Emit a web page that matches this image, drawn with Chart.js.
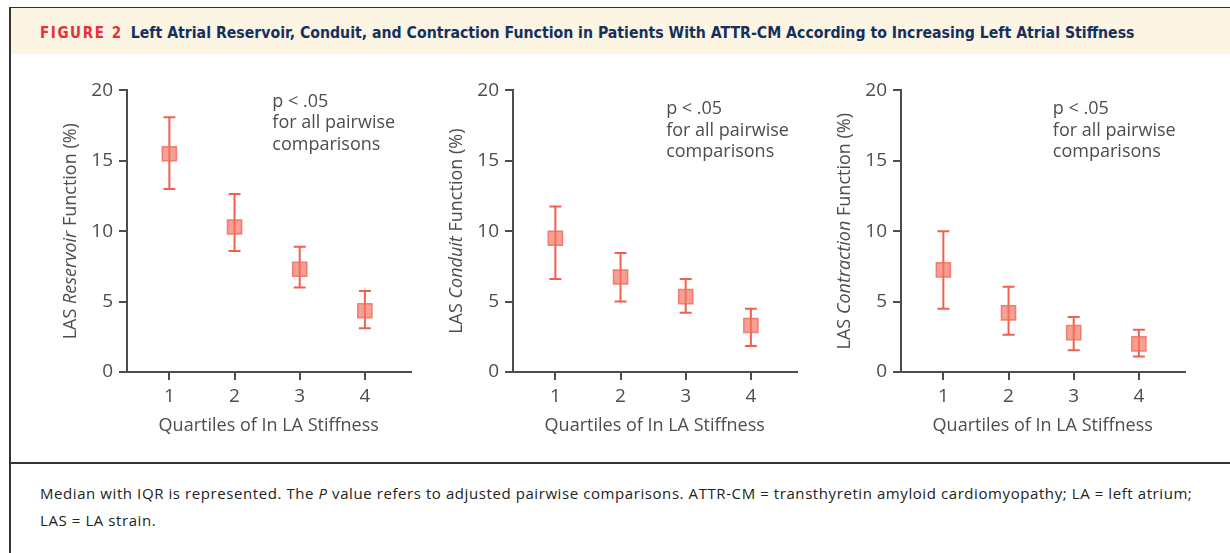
<!DOCTYPE html>
<html>
<head>
<meta charset="utf-8">
<script src="https://cdn.jsdelivr.net/npm/chart.js@4/dist/chart.umd.min.js"></script>
<style>
  body { margin: 0; width: 1230px; height: 553px; background: #fff; position: relative; overflow: hidden; font-family: "Open Sans", sans-serif; }
  .frame-top { position: absolute; left: 9px; top: 7px; right: 0; height: 1px; background: #333; }
  .frame-left { position: absolute; left: 9px; top: 7px; width: 1.5px; bottom: 0; background: #333; }
  .band { position: absolute; left: 10.5px; top: 8px; right: 0; height: 46px; background: #fcf5e4; }
  .title { position: absolute; left: 40px; top: 23px; white-space: nowrap; font-family: "DejaVu Sans Condensed", "DejaVu Sans", sans-serif; font-stretch: condensed; font-weight: bold; font-size: 15.7px; color: #14305e; }
  .title .fig { color: #e4303a; letter-spacing: 1.6px; margin-right: 8px; font-size: 15px; }
  .sep { position: absolute; left: 9px; right: 0; top: 462px; height: 1.5px; background: #333; }
  .note { position: absolute; left: 40px; top: 480px; width: 1185px; font-size: 15px; letter-spacing: 0.58px; line-height: 27px; color: #222; }
  canvas { position: absolute; }
</style>
</head>
<body>
<div class="frame-top"></div>
<div class="band"></div>
<div class="frame-left"></div>
<div class="title"><span class="fig">FIGURE 2</span>Left Atrial Reservoir, Conduit, and Contraction Function in Patients With ATTR-CM According to Increasing Left Atrial Stiffness</div>
<canvas id="c1" width="375" height="369" style="left:46.7px; top:73.3px;"></canvas>
<canvas id="c2" width="375" height="369" style="left:432.7px; top:73.3px;"></canvas>
<canvas id="c3" width="375" height="369" style="left:820.7px; top:73.3px;"></canvas>
<div class="sep"></div>
<div class="note">Median with IQR is represented. The <i>P</i> value refers to adjusted pairwise comparisons. ATTR-CM = transthyretin amyloid cardiomyopathy; LA = left atrium;<br>LAS = LA strain.</div>
<script>
// quartiles of ln LA stiffness
const quartiles = [1, 2, 3, 4];
const yTicks = [0, 5, 10, 15, 20];

// LAS reservoir (%) - median and IQR
const reservoirMedian = [15.5, 10.3, 7.3, 4.35];
const reservoirLow = [13.0, 8.6, 6.0, 3.1];
const reservoirHigh = [18.1, 12.65, 8.9, 5.75];

// LAS conduit (%)
const conduitMedian = [9.5, 6.75, 5.35, 3.3];
const conduitLow = [6.6, 5.0, 4.2, 1.85];
const conduitHigh = [11.75, 8.45, 6.6, 4.5];

// LAS contraction (%)
const contractionMedian = [7.25, 4.2, 2.8, 2.0];
const contractionLow = [4.5, 2.65, 1.55, 1.1];
const contractionHigh = [10.0, 6.05, 3.9, 3.0];

const pNote = ["p < .05", "for all pairwise", "comparisons"];

const AXIS = "#4d4d4d";
const RED = "#f0604f";

// y title with an italic word in the middle
const yTitlePlugin = {
    id: "yTitle",
    afterDraw(chart, args, opts) {
        const ctx = chart.ctx;
        const area = chart.chartArea;
        const parts = opts.parts;
        ctx.save();
        let total = 0;
        parts.forEach(p => {
            ctx.font = (p.italic ? "italic " : "") + "18px 'Open Sans'";
            p.w = ctx.measureText(p.text).width;
            total += p.w;
        });
        ctx.translate(area.left - 56, (area.top + area.bottom) / 2);
        ctx.rotate(-Math.PI / 2);
        ctx.fillStyle = AXIS;
        ctx.textBaseline = "middle";
        let x = -total / 2;
        parts.forEach(p => {
            ctx.font = (p.italic ? "italic " : "") + "18px 'Open Sans'";
            ctx.fillText(p.text, x, 0);
            x += p.w;
        });
        ctx.restore();
    }
};

// p value note, placed in data units
const noteyPlugin = {
    id: "pNote",
    afterDraw(chart, args, opts) {
        const ctx = chart.ctx;
        const x = chart.scales.x.getPixelForValue(opts.x);
        const y = chart.scales.y.getPixelForValue(opts.y);
        ctx.save();
        ctx.font = "18px 'Open Sans'";
        ctx.fillStyle = AXIS;
        ctx.textBaseline = "middle";
        pNote.forEach((line, i) => ctx.fillText(line, x, y + i * 21.7));
        ctx.restore();
    }
};

function whiskerPoints(low, high) {
    const pts = [];
    quartiles.forEach((q, i) => {
        pts.push({ x: q, y: low[i] }, { x: q, y: high[i] }, { x: q, y: null });
    });
    return pts;
}

function makePanel(id, median, low, high, titleParts, noteY) {
    new Chart(document.getElementById(id), {
        type: "scatter",
        data: {
            datasets: [
                {
                    data: quartiles.map((q, i) => ({ x: q, y: median[i] })),
                    pointStyle: "rect",
                    pointRadius: 10,
                    pointBackgroundColor: "rgba(242, 118, 100, 0.7)",
                    pointBorderColor: "rgba(240, 112, 96, 0.85)",
                    pointBorderWidth: 1.5
                },
                {
                    data: whiskerPoints(low, high),
                    showLine: true,
                    spanGaps: false,
                    borderColor: RED,
                    borderWidth: 2,
                    pointStyle: "line",
                    pointRadius: 6,
                    pointBorderColor: RED,
                    pointBorderWidth: 2
                }
            ]
        },
        options: {
            responsive: false,
            animation: false,
            devicePixelRatio: 1,
            layout: { padding: { top: 11, right: 0, left: 0, bottom: 0 } },
            plugins: {
                legend: { display: false },
                tooltip: { enabled: false },
                yTitle: { parts: titleParts },
                pNote: { x: noteY.x, y: noteY.y }
            },
            scales: {
                x: {
                    type: "linear",
                    min: 0.35,
                    max: 4.7,
                    afterBuildTicks: s => { s.ticks = quartiles.map(v => ({ value: v })); },
                    afterFit: s => { s.height = 70; },
                    grid: { drawOnChartArea: false, tickLength: 8, color: AXIS, lineWidth: 2 },
                    border: { color: AXIS, width: 2 },
                    ticks: { color: AXIS, font: { family: "Open Sans", size: 19 }, padding: 5 },
                    title: { display: true, text: "Quartiles of In LA Stiffness", color: AXIS, font: { family: "Open Sans", size: 18 }, padding: { top: 2, bottom: 5 } }
                },
                y: {
                    min: 0,
                    max: 20,
                    afterBuildTicks: s => { s.ticks = yTicks.map(v => ({ value: v })); },
                    afterFit: s => { s.width = 80; },
                    grid: { drawOnChartArea: false, tickLength: 8, color: AXIS, lineWidth: 2 },
                    border: { color: AXIS, width: 2 },
                    ticks: { color: AXIS, font: { family: "Open Sans", size: 19 }, padding: 6 }
                }
            }
        },
        plugins: [yTitlePlugin, noteyPlugin]
    });
}

makePanel("c1", reservoirMedian, reservoirLow, reservoirHigh,
    [{ text: "LAS " }, { text: "Reservoir", italic: true }, { text: " Function (%)" }], { x: 2.58, y: 19.2 });
makePanel("c2", conduitMedian, conduitLow, conduitHigh,
    [{ text: "LAS " }, { text: "Conduit", italic: true }, { text: " Function (%)" }], { x: 2.7, y: 18.7 });
makePanel("c3", contractionMedian, contractionLow, contractionHigh,
    [{ text: "LAS " }, { text: "Contraction", italic: true }, { text: " Function (%)" }], { x: 2.68, y: 18.7 });
</script>
</body>
</html>
